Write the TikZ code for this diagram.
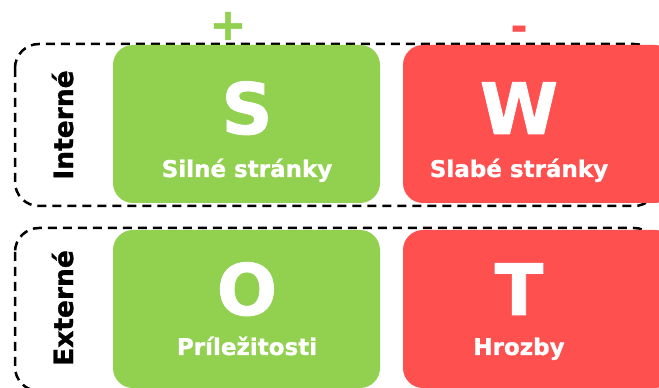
\documentclass[tikz,border=0pt]{standalone}
\usepackage{fontspec}
\setmainfont{DejaVu Sans}[BoldFeatures={FakeBold=1.2}]

\definecolor{plusgreen}{HTML}{92D050}
\definecolor{minusred}{HTML}{FF5050}

\tikzset{
	field/.style={rounded corners=20pt, inner sep=0pt, minimum width=267pt, minimum height=158pt},
	group/.style={draw=black, line width=2.5pt, dash pattern=on 9pt off 6pt, rounded corners=24pt},
	letter/.style={text=white, anchor=base, font=\bfseries\fontsize{71}{71}\selectfont},
	caption/.style={text=white, anchor=base, font=\bfseries\fontsize{23}{23}\selectfont},
	side/.style={rotate=90, anchor=base, font=\bfseries\fontsize{26.5}{26.5}\selectfont},
	sign/.style={anchor=center, font=\bfseries\fontsize{44}{44}\selectfont},
}

\begin{document}
\begin{tikzpicture}[x=1pt,y=1pt]
	\useasboundingbox (0,0) rectangle (659,388);
	\clip (0,0) rectangle (659,388);

	% internal / external groups
	\draw[group] (15,344) rectangle (658,182);
	\draw[group] (15,160) rectangle (658,-3);

	% the four fields
	\node[field, fill=plusgreen] (s) at (246.5,264) {};
	\node[field, fill=minusred, minimum width=272pt] (w) at (539,264) {};
	\node[field, fill=plusgreen] (o) at (246.5,79) {};
	\node[field, fill=minusred, minimum width=272pt] (t) at (539,79) {};

	\node[letter] (sl) at (247,254) {S};
	\node[caption] (sc) at (247,211) {Silné stránky};
	\node[letter] (wl) at (519,254) {W};
	\node[caption] (wc) at (519,211) {Slabé stránky};
	\node[letter] (ol) at (247,73) {O};
	\node[caption] (oc) at (247,33) {Príležitosti};
	\node[letter] (tl) at (519,73) {T};
	\node[caption] (tc) at (519,33) {Hrozby};

	% row and column labels
	\node[side] (int) at (73,263) {Interné};
	\node[side] (ext) at (73,80) {Externé};
	\node[sign, text=plusgreen] (plus) at (228,362) {+};
	\node[sign, text=minusred, font=\bfseries\fontsize{40}{40}\selectfont] (minus) at (519,355) {-};
\end{tikzpicture}
\end{document}
